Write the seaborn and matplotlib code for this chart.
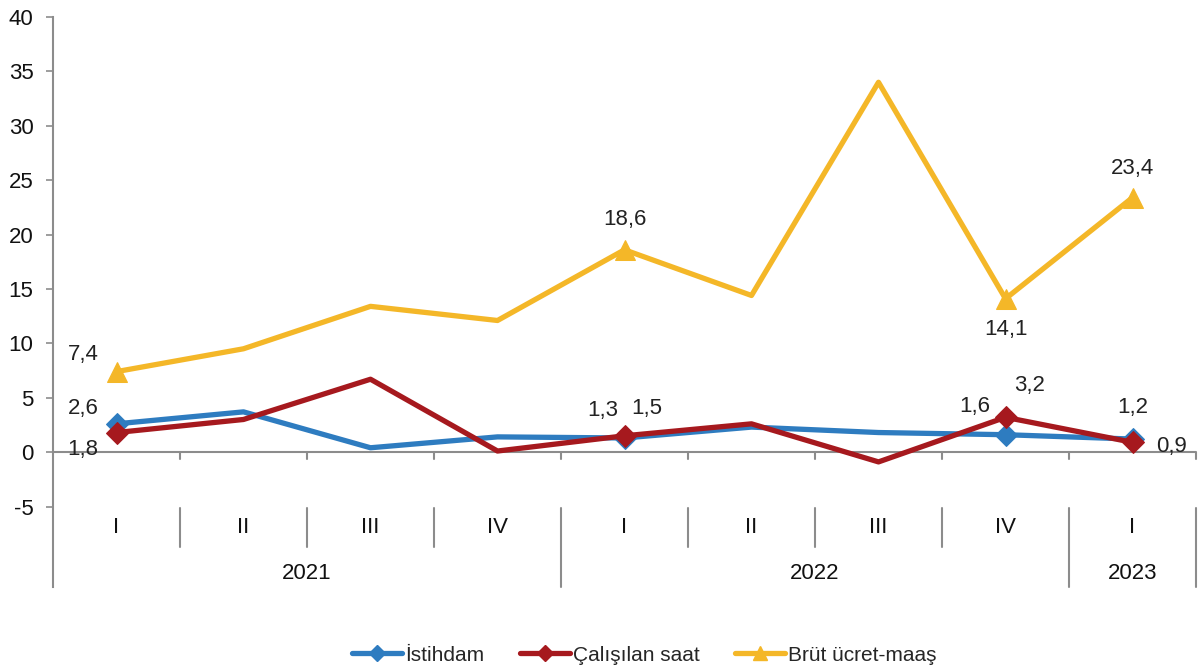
import matplotlib
matplotlib.use("Agg")
import matplotlib.pyplot as plt
from matplotlib.lines import Line2D
import seaborn as sns
import pandas as pd

# data
quarters = ["I", "II", "III", "IV", "I", "II", "III", "IV", "I"]
years = ["2021", "2022", "2023"]
year_spans = [(0, 3), (4, 7), (8, 8)]
istihdam = [2.6, 3.7, 0.4, 1.4, 1.3, 2.3, 1.8, 1.6, 1.2]
calisilan = [1.8, 3.0, 6.7, 0.1, 1.5, 2.6, -0.9, 3.2, 0.9]
brut = [7.4, 9.5, 13.4, 12.1, 18.6, 14.4, 34.0, 14.1, 23.4]
labelled = [0, 4, 7, 8]

series_names = ["İstihdam", "Çalışılan saat", "Brüt ücret-maaş"]
colors = ["#2E7CC0", "#A6191E", "#F4B728"]
markers = ["D", "D", "^"]

df = pd.DataFrame({"x": range(len(quarters)),
                   series_names[0]: istihdam,
                   series_names[1]: calisilan,
                   series_names[2]: brut})

sns.set_style("white")
plt.rcParams["font.family"] = ["Liberation Sans", "DejaVu Sans"]
plt.rcParams["axes.unicode_minus"] = False
fs = 16

fig = plt.figure(figsize=(12, 6.7), dpi=100)
ax = fig.add_axes([53 / 1200, 1 - 587 / 670, (1196 - 53) / 1200, 570 / 670])

for name, c, m in zip(series_names, colors, markers):
    sns.lineplot(data=df, x="x", y=name, ax=ax, color=c, linewidth=3.8,
                 marker=m, markersize=14 if m == "^" else 11, markevery=labelled,
                 markeredgecolor=c)

ax.set_xlim(-0.5, 8.5)
ax.set_ylim(-12.4, 40)
ax.set_yticks(range(-5, 45, 5))
ax.tick_params(axis="y", labelsize=fs, length=5, width=1.2, color="#8C8C8C",
               direction="out", left=True, pad=9)
for t in ax.get_yticklabels():
    t.set_color("#111111")
ax.set_xticks([])
ax.set_xlabel("")
ax.set_ylabel("")
for s in ["top", "right", "bottom"]:
    ax.spines[s].set_visible(False)
ax.spines["left"].set_color("#8C8C8C")
ax.spines["left"].set_linewidth(1.5)

gray = "#8C8C8C"
# zero line with boundary ticks
ax.axhline(0, color=gray, lw=1.5, zorder=1)
for b in range(9):
    ax.plot([b + 0.5, b + 0.5], [0, -0.6], color=gray, lw=1.5, clip_on=False)

# category labels and separators
for i, q in enumerate(quarters):
    ax.text(i, -6.9, q, ha="center", va="center", fontsize=fs, color="#111111")
year_bounds = [3.5, 7.5, 8.5]
for b in range(9):
    bx = b + 0.5
    low = -12.4 if bx in year_bounds else -8.7
    ax.plot([bx, bx], [-5.15, low], color=gray, lw=1.5, clip_on=False)
for y, (a, b) in zip(years, year_spans):
    ax.text((a + b) / 2, -11.2, y, ha="center", va="center", fontsize=fs, color="#111111")

# data labels
def fmt(v):
    return f"{v:.1f}".replace(".", ",")

offsets = {
    0: [(-24, 11), (-24, -12), (-24, 12)],
    4: [(-16, 20), (16, 20), (0, 22)],
    7: [(-22, 20), (17, 23), (0, -22)],
    8: [(0, 23), (28, -3), (0, 21)],
}
for vals, idx in zip([istihdam, calisilan, brut], range(3)):
    for i in labelled:
        dx, dy = offsets[i][idx]
        ax.annotate(fmt(vals[i]), (i, vals[i]), xytext=(dx, dy), textcoords="offset points",
                    ha="center", va="center", fontsize=fs, color="#222222")

handles = [Line2D([0], [0], color=c, lw=3.8, marker=m, markersize=8 if m == "D" else 10)
           for c, m in zip(colors, markers)]
fig.legend(handles, series_names, loc="center", bbox_to_anchor=(0.537, 0.022), ncol=3,
           frameon=False, fontsize=15, handlelength=2.4, handletextpad=0.15,
           columnspacing=1.7)

fig.savefig("out.png", dpi=100, facecolor="white")
